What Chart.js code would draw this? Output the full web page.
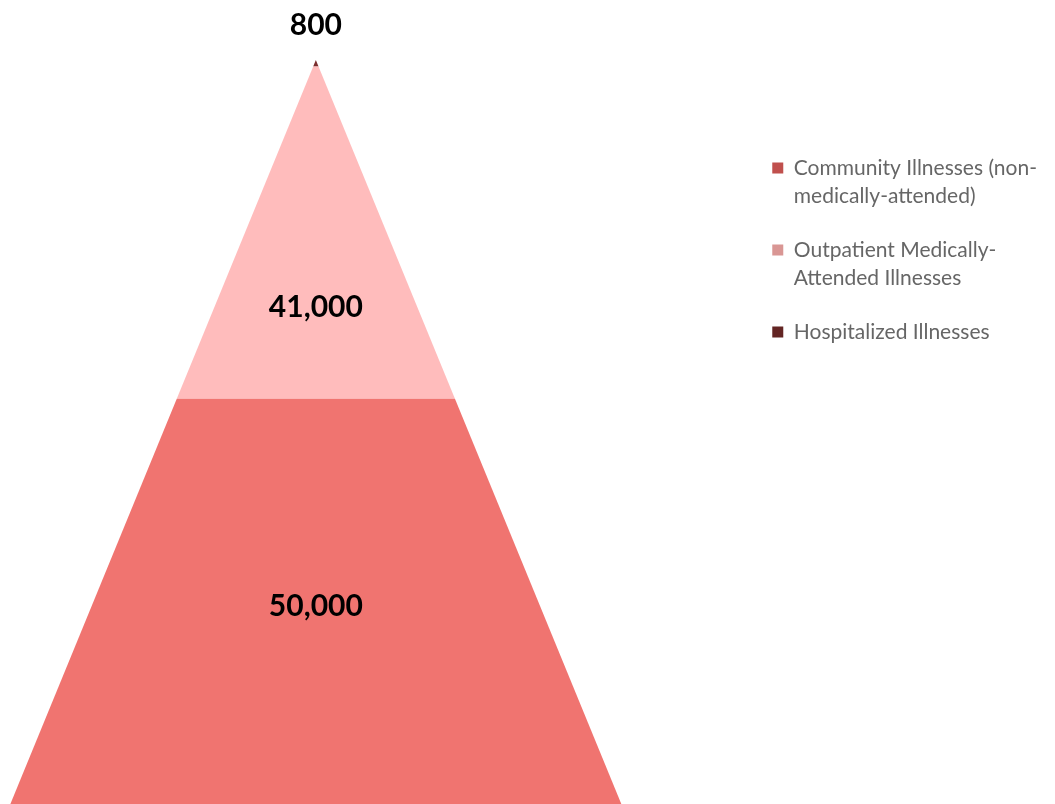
<!DOCTYPE html>
<html>
<head>
<meta charset="utf-8">
<script src="https://cdn.jsdelivr.net/npm/chart.js@4"></script>
<style>
  html, body { margin: 0; padding: 0; background: #fff; }
  #wrap { width: 1055px; height: 804px; }
</style>
</head>
<body>
<div id="wrap"><canvas id="pyramid"></canvas></div>
<script>
// tiers from the base of the pyramid up
const categories = ['Community Illnesses (non-medically-attended)', 'Outpatient Medically-Attended Illnesses', 'Hospitalized Illnesses'];
const legendLines = [['Community Illnesses (non-', 'medically-attended)'], ['Outpatient Medically-', 'Attended Illnesses'], ['Hospitalized Illnesses']];
const illnesses = [50000, 41000, 800];

const fillColors = ['#F07470', '#FFBCBC', '#7B2E2E'];
const legendColors = ['#C0504D', '#D99694', '#632523'];

const total = illnesses.reduce((a, b) => a + b, 0);
// half width of the pyramid at a given height, in x-axis units (1 at the base)
const halfWidth = y => 1 - y / total;

let start = 0;
const datasets = illnesses.map((v, i) => {
    const b0 = start, b1 = start + v;
    start = b1;
    return {
        label: categories[i],
        data: [
            {x: -halfWidth(b0), y: b0},
            {x: halfWidth(b0), y: b0},
            {x: halfWidth(b1), y: b1},
            {x: -halfWidth(b1), y: b1},
            {x: -halfWidth(b0), y: b0}
        ],
        showLine: true,
        fill: 'shape',
        backgroundColor: fillColors[i],
        borderWidth: 0,
        pointRadius: 0,
        tension: 0,
        tierValue: v,
        tierStart: b0
    };
});

// value labels on each tier
const tierLabels = {
    id: 'tierLabels',
    afterDatasetsDraw(chart, args, opts) {
        const ctx = chart.ctx;
        const y = chart.scales.y, x = chart.scales.x;
        ctx.save();
        ctx.font = 'bold 30px Lato';
        ctx.fillStyle = '#000';
        ctx.textAlign = 'center';
        ctx.textBaseline = 'middle';
        chart.data.datasets.forEach((ds, i) => {
            const frac = opts.positions[i];
            let py;
            if (frac === null) {
                py = y.getPixelForValue(ds.tierStart + ds.tierValue) - opts.above;
            } else {
                py = y.getPixelForValue(ds.tierStart + ds.tierValue * frac);
            }
            ctx.fillText(ds.tierValue.toLocaleString('en-US'), x.getPixelForValue(0), py);
        });
        ctx.restore();
    }
};

const ctx = document.getElementById('pyramid').getContext('2d');
const myChart = new Chart(ctx, {
    type: 'scatter',
    data: { datasets: datasets },
    options: {
        responsive: true,
        maintainAspectRatio: false,
        animation: false,
        layout: { padding: { top: 60, left: 0, right: 8, bottom: 0 } },
        scales: {
            x: { type: 'linear', display: false, min: -1.034, max: 1.409 },
            y: { type: 'linear', display: false, min: 0, max: total }
        },
        plugins: {
            legend: {
                position: 'right',
                align: 'start',
                title: { display: true, text: ' ', font: { size: 10 }, padding: { top: 59.5, bottom: 0 } },
                labels: {
                    font: { family: 'Lato', size: 21, lineHeight: 1.333 },
                    color: '#595959',
                    boxWidth: 11,
                    boxHeight: 11,
                    padding: 26,
                    generateLabels: chart => chart.data.datasets.map((ds, i) => ({
                        text: legendLines[i],
                        fillStyle: legendColors[i],
                        strokeStyle: legendColors[i],
                        lineWidth: 0,
                        hidden: false,
                        datasetIndex: i
                    }))
                }
            },
            tooltip: { enabled: false },
            tierLabels: { positions: [0.488, 0.275, null], above: 35 }
        }
    },
    plugins: [tierLabels]
});
</script>
</body>
</html>
